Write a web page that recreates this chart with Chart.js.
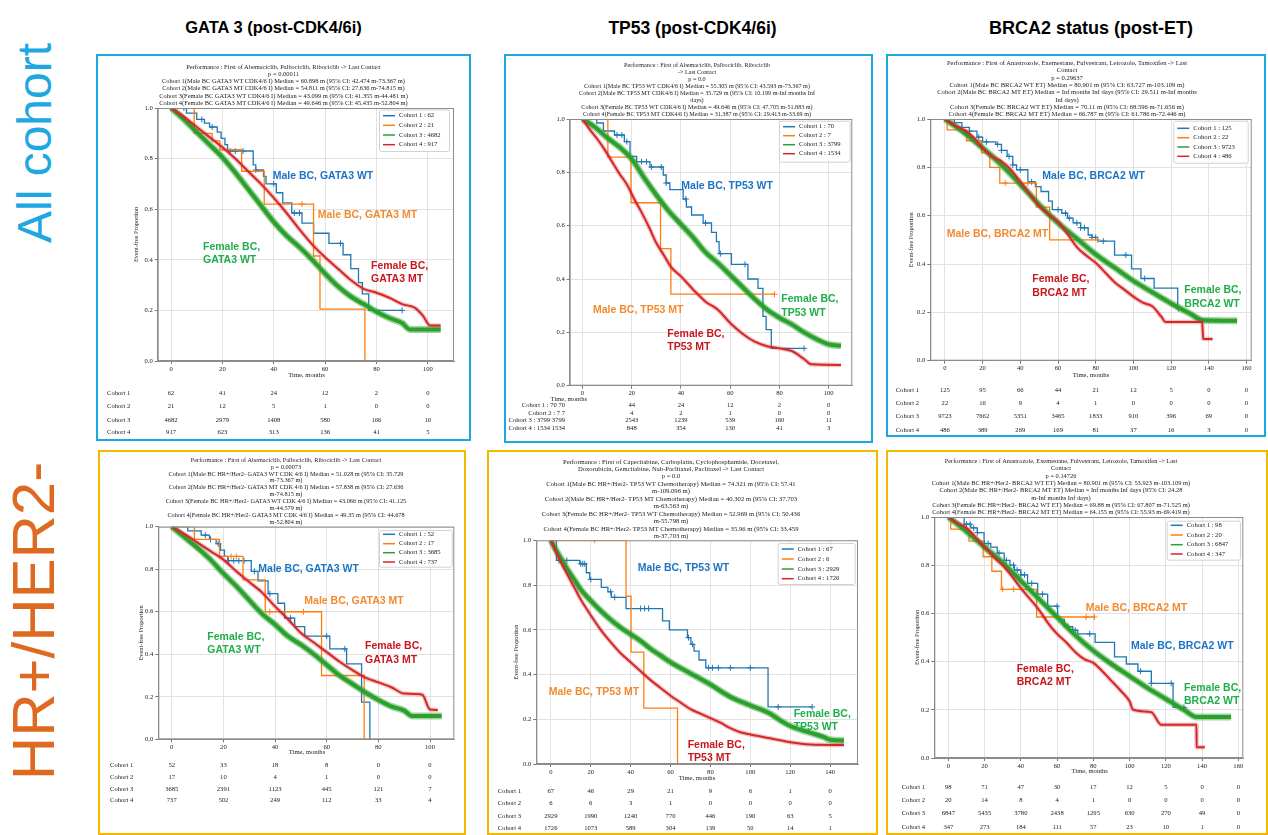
<!DOCTYPE html>
<html>
<head>
<meta charset="utf-8">
<title>Event-free proportion, male vs female BC</title>
<script src="https://cdn.jsdelivr.net/npm/chart.js@4.4.1/dist/chart.umd.min.js"></script>
<style>
  body { margin: 0; width: 1268px; height: 835px; position: relative; overflow: hidden; background: #fff;
         font-family: "Liberation Sans", Arial, sans-serif; }
  .side { position: absolute; line-height: 1; white-space: nowrap; transform: translate(-50%, -50%) rotate(-90deg); }
  .col { position: absolute; top: 18px; font-weight: bold; font-size: 16.5px; white-space: nowrap;
         transform: translateX(-50%); color: #000; }
  .frame { position: absolute; box-sizing: border-box; border: 2px solid; z-index: 3; pointer-events: none; }
  canvas { position: absolute; z-index: 1; }
  .head { position: absolute; width: 440px; text-align: center; white-space: nowrap; color: #222; z-index: 2;
          font-family: "Liberation Serif", "Times New Roman", serif; }
  .note { position: absolute; font-weight: bold; font-size: 10.5px; line-height: 13.6px; white-space: nowrap; z-index: 2; }
</style>
</head>
<body>
<div class="side" style="left:35px;top:143px;font-size:48px;color:#1ea7e1">All cohort</div>
<div class="side" style="left:34px;top:621px;font-size:60px;color:#dd6a20">HR+/HER2-</div>
<div class="col" style="left:273.5px">GATA 3 (post-CDK4/6i)</div>
<div class="col" style="left:692.5px;font-size:17.5px">TP53 (post-CDK4/6i)</div>
<div class="col" style="left:1091px;font-size:18px">BRCA2 status (post-ET)</div>

<script>
const BLUE = '#1f77b4', ORANGE = '#ff7f0e', GREEN = '#2ca02c', RED = '#d62728';
const COLS = [BLUE, ORANGE, GREEN, RED];
const SERIF = '"Liberation Serif", "Times New Roman", serif';
const NOTE_BLUE = '#1b74c5', NOTE_ORANGE = '#f28a30', NOTE_GREEN = '#1fae4b', NOTE_RED = '#c8161d';
const yTicks = [0, 0.2, 0.4, 0.6, 0.8, 1.0];
const ticks100 = [0, 20, 40, 60, 80, 100];
const ticks140 = [0, 20, 40, 60, 80, 100, 120, 140];
const ticks160 = [0, 20, 40, 60, 80, 100, 120, 140, 160];

// GATA3, all cohort  [months, proportion]
const gataAllC1 = [[0,1],[6,0.98],[10,0.955],[13,0.94],[15,0.925],[18,0.905],[19.5,0.88],[21,0.855],[22,0.83],[32,0.775],[33,0.755],[36,0.73],[37,0.70],[41,0.665],[43.5,0.625],[47,0.585],[51,0.545],[55.5,0.505],[61.5,0.465],[67,0.42],[70,0.365],[73,0.31],[74.5,0.265],[77,0.20],[90,0.20]];
const gataAllC2 = [[0,1],[9,0.90],[16,0.87],[19,0.835],[27.5,0.75],[36.3,0.62],[55.5,0.415],[58,0.205],[75.5,0]];
const gataAllC3 = [[0,1],[5,0.955],[10,0.905],[15,0.855],[20,0.805],[25,0.745],[30,0.68],[35,0.615],[40,0.55],[45,0.495],[50,0.45],[55,0.40],[60,0.345],[65,0.295],[70,0.255],[75,0.225],[80,0.195],[85,0.17],[90,0.15],[93,0.125],[105,0.125]];
const gataAllC4 = [[0,1],[5,0.965],[10,0.925],[15,0.885],[20,0.845],[25,0.80],[30,0.75],[35,0.70],[40,0.645],[45,0.585],[50,0.52],[55,0.46],[60,0.41],[65,0.365],[70,0.32],[75,0.285],[80,0.27],[85,0.25],[90,0.225],[95,0.21],[98,0.18],[101,0.14],[105,0.14]];
const gataAllC1Cens = [5,12,16,23,25,28,33,40,48,50,66,90];
const gataAllC2Cens = [51];
const gataAllN = [62, 21, 4682, 917];
const gataAllRisk = [[62,41,24,12,2,0],[21,12,5,1,0,0],[4682,2979,1408,580,166,10],[917,623,313,136,41,5]];

// TP53, all cohort
const tp53AllC1 = [[0,1],[5.8,0.985],[8.5,0.955],[13,0.94],[17,0.915],[19.3,0.86],[22,0.84],[27.4,0.82],[32.8,0.79],[34,0.76],[35.5,0.735],[40.9,0.70],[42.2,0.67],[44.3,0.64],[49,0.61],[52.4,0.575],[54.4,0.54],[55.5,0.495],[60.5,0.455],[67.2,0.40],[71.3,0.365],[73.3,0.26],[74.6,0.21],[76.7,0.14],[89.5,0.14]];
const tp53AllC2 = [[0,1],[10.3,0.857],[19.7,0.686],[31.7,0.514],[35.9,0.343],[78,0.343]];
const tp53AllC3 = [[0,1],[5,0.97],[10,0.93],[15,0.895],[20,0.85],[25,0.78],[30,0.715],[35,0.655],[40,0.605],[45,0.555],[50,0.50],[55,0.46],[60,0.415],[65,0.37],[70,0.325],[75,0.285],[80,0.255],[85,0.23],[90,0.20],[95,0.175],[100,0.155],[105,0.15]];
const tp53AllC4 = [[0,1],[3,0.96],[6,0.925],[9,0.885],[12,0.84],[15,0.795],[18,0.755],[21,0.70],[24,0.65],[27,0.595],[30,0.535],[33,0.49],[36,0.445],[40,0.41],[45,0.36],[50,0.315],[55,0.285],[60,0.235],[65,0.195],[70,0.165],[75,0.148],[80,0.14],[85,0.13],[90,0.10],[93,0.08],[105,0.078]];
const tp53AllC1Cens = [14,16,18,24,26,28,32,34,42,50,56,66,90];
const tp53AllC2Cens = [78];
const tp53AllN = [70, 7, 3799, 1534];
const tp53AllRiskTicks = [20, 40, 60, 80, 100];
const tp53AllRiskLabels = ['Cohort 1 : 70 70', 'Cohort 2 : 7 7', 'Cohort 3 : 3799 3799', 'Cohort 4 : 1534 1534'];
const tp53AllRisk = [[44,24,12,2,0],[4,2,1,0,0],[2543,1239,539,160,11],[848,354,130,41,3]];

// BRCA2, all cohort
const brcaAllC1 = [[0,1],[5,0.985],[9,0.965],[13,0.95],[17,0.925],[20,0.905],[27,0.895],[30,0.87],[33,0.845],[36,0.81],[38,0.79],[44,0.74],[48,0.72],[51,0.70],[55,0.66],[57,0.625],[62,0.61],[65,0.59],[68,0.57],[72,0.55],[76,0.52],[78,0.51],[81,0.495],[90,0.437],[99,0.38],[104,0.34],[111,0.30],[123.5,0.215],[124.5,0.215]];
const brcaAllC2 = [[0,1],[1.2,0.955],[11.5,0.91],[19.4,0.86],[23.8,0.80],[29.1,0.735],[48.5,0.635],[55.6,0.50],[81,0.50]];
const brcaAllC3 = [[0,1],[10,0.945],[20,0.88],[30,0.81],[40,0.73],[50,0.645],[60,0.57],[70,0.505],[80,0.44],[90,0.385],[100,0.33],[110,0.283],[120,0.237],[130,0.195],[137,0.167],[155,0.165]];
const brcaAllC4 = [[0,1],[5,0.975],[10,0.955],[15,0.925],[20,0.88],[25,0.845],[30,0.825],[35,0.79],[40,0.74],[45,0.69],[50,0.64],[55,0.605],[60,0.575],[65,0.525],[70,0.47],[75,0.435],[80,0.405],[85,0.365],[90,0.325],[95,0.295],[100,0.265],[105,0.24],[110,0.225],[115,0.18],[117,0.16],[136.5,0.16],[137,0.09],[142,0.09]];
const brcaAllC1Cens = [13,18,22,28,30,34,36,40,46,60,64,66,70,72,74,78,80,84,96,106,124];
const brcaAllC2Cens = [32,44,81];
const brcaAllN = [125, 22, 9723, 486];
const brcaAllRisk = [[125,95,66,44,21,12,5,0,0],[22,16,9,4,1,0,0,0,0],[9723,7662,5351,3465,1833,910,396,69,0],[486,389,269,169,81,37,16,3,0]];

// GATA3, HR+/HER2-
const gataHrC1 = [[0,1],[6.2,0.98],[11.4,0.96],[14.6,0.94],[17.2,0.92],[18.9,0.89],[20.4,0.86],[21.7,0.84],[30.8,0.79],[33.4,0.745],[37.3,0.685],[41.1,0.64],[43.7,0.57],[47.6,0.53],[51.5,0.485],[61.2,0.425],[67.7,0.355],[73.5,0.175],[76.7,0]];
const gataHrC2 = [[0,1],[8.8,0.94],[18.5,0.86],[27.6,0.75],[36.2,0.60],[58,0.30],[74.5,0]];
const gataHrC3 = [[0,1],[5,0.95],[10,0.90],[15,0.845],[20,0.78],[25,0.72],[30,0.655],[35,0.59],[40,0.54],[45,0.485],[50,0.445],[55,0.40],[60,0.35],[65,0.30],[70,0.26],[75,0.22],[80,0.185],[85,0.155],[90,0.135],[93,0.11],[104.5,0.11]];
const gataHrC4 = [[0,1],[5,0.965],[10,0.925],[15,0.885],[20,0.845],[25,0.79],[30,0.74],[35,0.69],[40,0.625],[45,0.565],[50,0.50],[55,0.455],[60,0.41],[65,0.365],[70,0.325],[75,0.29],[80,0.268],[85,0.245],[90,0.215],[97,0.21],[100,0.14],[103,0.138]];
const gataHrC1Cens = [13,15,18,22,24,26,28,32,38,46,60,67];
const gataHrC2Cens = [23,25,38,51];
const gataHrN = [52, 17, 3685, 737];
const gataHrRisk = [[52,33,18,8,0,0],[17,10,4,1,0,0],[3685,2391,1123,445,121,7],[737,502,249,112,33,4]];

// TP53, HR+/HER2-
const tp53HrC1 = [[0,1],[2.8,0.91],[14.5,0.895],[17.8,0.855],[19.5,0.825],[25.3,0.79],[28.6,0.77],[30.3,0.745],[37.7,0.695],[56,0.64],[59.4,0.60],[68.5,0.565],[70.2,0.535],[71.8,0.505],[74.3,0.465],[77.7,0.43],[108.9,0.255],[130.9,0.255]];
const tp53HrC2 = [[0,1],[37.7,0.75],[40.2,0.50],[46.6,0.25],[63.5,0]];
const tp53HrC3 = [[0,1],[3,0.95],[6,0.905],[9,0.86],[12,0.82],[15,0.78],[20,0.73],[25,0.685],[30,0.645],[35,0.61],[40,0.58],[45,0.55],[50,0.515],[55,0.485],[60,0.455],[70,0.405],[80,0.355],[90,0.30],[100,0.262],[110,0.225],[115,0.195],[120,0.17],[130,0.14],[137,0.12],[140,0.108],[147,0.105]];
const tp53HrC4 = [[0,1],[3,0.94],[6,0.885],[9,0.835],[12,0.785],[15,0.735],[20,0.665],[25,0.60],[30,0.545],[35,0.495],[40,0.455],[45,0.415],[50,0.375],[55,0.34],[60,0.305],[65,0.275],[70,0.245],[75,0.225],[80,0.205],[85,0.185],[90,0.16],[95,0.142],[100,0.132],[110,0.115],[120,0.097],[130,0.087],[147,0.085]];
const tp53HrC1Cens = [4,8,15,16,17,20,30,32,45,47,49,69,71,79,81,84,90,100,114,131];
const tp53HrC2Cens = [22];
const tp53HrN = [67, 6, 2929, 1726];
const tp53HrRisk = [[67,46,29,21,9,6,1,0],[6,6,3,1,0,0,0,0],[2929,1990,1240,770,446,190,63,5],[1726,1073,589,304,139,50,14,1]];

// BRCA2, HR+/HER2-
const brcaHrC1 = [[0,1],[8.7,0.97],[12.4,0.955],[16,0.935],[19.7,0.89],[23.4,0.875],[27,0.85],[30.8,0.82],[34,0.80],[36.4,0.78],[40,0.76],[43.7,0.725],[49.3,0.68],[54.8,0.63],[60.3,0.575],[64,0.545],[68.6,0.53],[71.4,0.515],[81,0.48],[91.7,0.42],[98.2,0.39],[104.6,0.36],[112,0.31],[124,0.21],[130.5,0.21]];
const brcaHrC2 = [[0,1],[1.3,0.95],[11.4,0.90],[19.2,0.835],[24,0.775],[29.3,0.70],[48.7,0.585],[80.6,0.585]];
const brcaHrC3 = [[0,1],[10,0.94],[20,0.875],[30,0.81],[40,0.735],[50,0.66],[60,0.585],[70,0.51],[80,0.445],[90,0.39],[100,0.34],[110,0.29],[120,0.245],[130,0.20],[137,0.17],[156,0.17]];
const brcaHrC4 = [[0,1],[5,0.975],[10,0.955],[15,0.915],[20,0.875],[25,0.835],[30,0.80],[35,0.755],[40,0.705],[45,0.66],[50,0.615],[55,0.56],[60,0.515],[65,0.48],[70,0.44],[75,0.41],[80,0.395],[85,0.36],[90,0.32],[95,0.28],[100,0.235],[102,0.20],[112,0.19],[117.5,0.138],[136.9,0.138],[137,0.045],[141.5,0.045]];
const brcaHrC1Cens = [10,12,14,16,20,22,28,32,36,38,40,42,46,52,60,66,70,78,106,112,123,130];
const brcaHrC2Cens = [30,36,76,80.6];
const brcaHrN = [98, 20, 6847, 347];
const brcaHrRisk = [[98,71,47,30,17,12,5,0,0],[20,14,8,4,1,0,0,0,0],[6847,5435,3780,2438,1295,630,270,49,0],[347,273,184,111,57,23,10,1,0]];

const cohortLabels = ['Cohort 1', 'Cohort 2', 'Cohort 3', 'Cohort 4'];

const gataAllHead = [
  'Performance : First of Abemaciclib, Palbociclib, Ribociclib -> Last Contact',
  'p = 0.00011',
  'Cohort 1(Male BC GATA3 WT CDK4/6 I) Median = 60.898 m (95% CI: 42.474 m-73.367 m)',
  'Cohort 2(Male BC GATA3 MT CDK4/6 I) Median = 54.811 m (95% CI: 27.636 m-74.815 m)',
  'Cohort 3(Female BC GATA3 WT CDK4/6 I) Median = 43.099 m (95% CI: 41.355 m-44.481 m)',
  'Cohort 4(Female BC GATA3 MT CDK4/6 I) Median = 49.646 m (95% CI: 45.435 m-52.804 m)'];
const tp53AllHead = [
  'Performance : First of Abemaciclib, Palbociclib, Ribociclib',
  '-> Last Contact',
  'p = 0.0',
  'Cohort 1(Male BC TP53 WT CDK4/6 I) Median = 55.305 m (95% CI: 43.593 m-73.367 m)',
  'Cohort 2(Male BC TP53 MT CDK4/6 I) Median = 35.729 m (95% CI: 10.199 m-Inf months Inf',
  'days)',
  'Cohort 3(Female BC TP53 WT CDK4/6 I) Median = 49.646 m (95% CI: 47.705 m-51.883 m)',
  'Cohort 4(Female BC TP53 MT CDK4/6 I) Median = 31.387 m (95% CI: 29.413 m-33.69 m)'];
const brcaAllHead = [
  'Performance : First of Anastrozole, Exemestane, Fulvestrant, Letrozole, Tamoxifen -> Last',
  'Contact',
  'p = 0.29637',
  'Cohort 1(Male BC BRCA2 WT ET) Median = 80.901 m (95% CI: 63.727 m-103.109 m)',
  'Cohort 2(Male BC BRCA2 MT ET) Median = Inf months Inf days (95% CI: 29.511 m-Inf months',
  'Inf days)',
  'Cohort 3(Female BC BRCA2 WT ET) Median = 70.11 m (95% CI: 68.596 m-71.656 m)',
  'Cohort 4(Female BC BRCA2 MT ET) Median = 66.787 m (95% CI: 61.786 m-72.446 m)'];
const gataHrHead = [
  'Performance : First of Abemaciclib, Palbociclib, Ribociclib -> Last Contact',
  'p = 0.00073',
  'Cohort 1(Male BC HR+/Her2- GATA3 WT CDK 4/6 I) Median = 51.028 m (95% CI: 35.729',
  'm-73.367 m)',
  'Cohort 2(Male BC HR+/Her2- GATA3 MT CDK 4/6 I) Median = 57.838 m (95% CI: 27.636',
  'm-74.815 m)',
  'Cohort 3(Female BC HR+/Her2- GATA3 WT CDK 4/6 I) Median = 43.066 m (95% CI: 41.125',
  'm-44.579 m)',
  'Cohort 4(Female BC HR+/Her2- GATA3 MT CDK 4/6 I) Median = 49.35 m (95% CI: 44.678',
  'm-52.804 m)'];
const tp53HrHead = [
  'Performance : First of Capecitabine, Carboplatin, Cyclophosphamide, Docetaxel,',
  'Doxorubicin, Gemcitabine, Nab-Paclitaxel, Paclitaxel -> Last Contact',
  'p = 0.0',
  'Cohort 1(Male BC HR+/Her2- TP53 WT Chemotherapy) Median = 74.321 m (95% CI: 57.41',
  'm-109.096 m)',
  'Cohort 2(Male BC HR+/Her2- TP53 MT Chemotherapy) Median = 40.302 m (95% CI: 37.703',
  'm-63.563 m)',
  'Cohort 3(Female BC HR+/Her2- TP53 WT Chemotherapy) Median = 52.969 m (95% CI: 50.436',
  'm-55.798 m)',
  'Cohort 4(Female BC HR+/Her2- TP53 MT Chemotherapy) Median = 35.96 m (95% CI: 33.459',
  'm-37.703 m)'];
const brcaHrHead = [
  'Performance : First of Anastrozole, Exemestane, Fulvestrant, Letrozole, Tamoxifen -> Last',
  'Contact',
  'p = 0.14726',
  'Cohort 1(Male BC HR+/Her2- BRCA2 WT ET) Median = 80.901 m (95% CI: 53.923 m-103.109 m)',
  'Cohort 2(Male BC HR+/Her2- BRCA2 MT ET) Median = Inf months Inf days (95% CI: 24.28',
  'm-Inf months Inf days)',
  'Cohort 3(Female BC HR+/Her2- BRCA2 WT ET) Median = 69.88 m (95% CI: 67.807 m-71.525 m)',
  'Cohort 4(Female BC HR+/Her2- BRCA2 MT ET) Median = 64.155 m (95% CI: 55.93 m-69.419 m)'];

const panels = [
  { box: [96, 54, 471, 441], frame: '#1aa9e4', plot: [157.7, 108, 454, 361], xMin: -5.2, xMax: 110.2, xTicks: ticks100,
    series: [gataAllC1, gataAllC2, gataAllC3, gataAllC4], cens: [gataAllC1Cens, gataAllC2Cens], n: gataAllN,
    head: { cx: 283.5, first: 66.2, lh: 7.3, fs: 6.45, lines: gataAllHead },
    legend: [379, 109.5, 449, 151], legendRows: [115.7, 125.3, 135, 144.7],
    xTitle: [306.5, 375], yTitleX: 136.7,
    risk: gataAllRisk, riskTicks: ticks100, riskLabels: cohortLabels, riskLabelX: 107, riskAlign: 'left', riskRows: [393.3, 406.7, 420, 432.7],
    notes: [
      { t: ['Male BC, GATA3 WT'], c: NOTE_BLUE, x: 272.7, y: 176 },
      { t: ['Male BC, GATA3 MT'], c: NOTE_ORANGE, x: 317.7, y: 215 },
      { t: ['Female BC,', 'GATA3 WT'], c: NOTE_GREEN, x: 203, y: 246.7 },
      { t: ['Female BC,', 'GATA3 MT'], c: NOTE_RED, x: 371, y: 265.7 }] },
  { box: [504, 54, 873, 443], frame: '#1aa9e4', plot: [569.7, 119, 852.3, 385.7], xMin: -5.2, xMax: 109.6, xTicks: ticks100,
    series: [tp53AllC1, tp53AllC2, tp53AllC3, tp53AllC4], cens: [tp53AllC1Cens, tp53AllC2Cens], n: tp53AllN,
    head: { cx: 697, first: 65.7, lh: 6.9, fs: 6.15, lines: tp53AllHead },
    legend: [779, 120.7, 849.7, 161.7], legendRows: [126.7, 135.7, 144.7, 153.7],
    xTitle: [568.8, 399.3], yTitleX: null,
    risk: tp53AllRisk, riskTicks: tp53AllRiskTicks, riskLabels: tp53AllRiskLabels, riskLabelX: 565, riskAlign: 'right', riskRows: [405.5, 413, 420.5, 428],
    notes: [
      { t: ['Male BC, TP53 WT'], c: NOTE_BLUE, x: 681.3, y: 185.7 },
      { t: ['Male BC, TP53 MT'], c: NOTE_ORANGE, x: 593, y: 310 },
      { t: ['Female BC,', 'TP53 WT'], c: NOTE_GREEN, x: 781.3, y: 299 },
      { t: ['Female BC,', 'TP53 MT'], c: NOTE_RED, x: 667.3, y: 333.3 }] },
  { box: [886, 54, 1266, 437], frame: '#1aa9e4', plot: [930.3, 119, 1251.7, 360.7], xMin: -7.75, xMax: 162.75, xTicks: ticks160,
    series: [brcaAllC1, brcaAllC2, brcaAllC3, brcaAllC4], cens: [brcaAllC1Cens, brcaAllC2Cens], n: brcaAllN,
    head: { cx: 1067, first: 62.8, lh: 7.3, fs: 6.6, lines: brcaAllHead },
    legend: [1173.3, 120.7, 1247.7, 162.7], legendRows: [128.3, 137.7, 147, 156.3],
    xTitle: [1091, 375], yTitleX: 911.7,
    risk: brcaAllRisk, riskTicks: ticks160, riskLabels: cohortLabels, riskLabelX: 895.7, riskAlign: 'left', riskRows: [390, 403.3, 416.7, 430],
    notes: [
      { t: ['Male BC, BRCA2 WT'], c: NOTE_BLUE, x: 1042.3, y: 176 },
      { t: ['Male BC, BRCA2 MT'], c: NOTE_ORANGE, x: 946.7, y: 234 },
      { t: ['Female BC,', 'BRCA2 MT'], c: NOTE_RED, x: 1032.3, y: 279 },
      { t: ['Female BC,', 'BRCA2 WT'], c: NOTE_GREEN, x: 1184.3, y: 290 }] },
  { box: [98, 450, 466, 835], frame: '#f5b800', plot: [158.3, 526.7, 454.3, 739.3], xMin: -5.2, xMax: 109.4, xTicks: ticks100,
    series: [gataHrC1, gataHrC2, gataHrC3, gataHrC4], cens: [gataHrC1Cens, gataHrC2Cens], n: gataHrN,
    head: { cx: 286, first: 460.3, lh: 6.86, fs: 6.3, lines: gataHrHead },
    legend: [379, 530, 451.7, 566.7], legendRows: [534.3, 543.7, 552.7, 562],
    xTitle: [307, 752.7], yTitleX: 141.7,
    risk: gataHrRisk, riskTicks: ticks100, riskLabels: cohortLabels, riskLabelX: 110, riskAlign: 'left', riskRows: [765.7, 777.3, 789, 800.7],
    notes: [
      { t: ['Male BC, GATA3 WT'], c: NOTE_BLUE, x: 258.3, y: 568.3 },
      { t: ['Male BC, GATA3 MT'], c: NOTE_ORANGE, x: 304.3, y: 600.7 },
      { t: ['Female BC,', 'GATA3 WT'], c: NOTE_GREEN, x: 207.3, y: 636.7 },
      { t: ['Female BC,', 'GATA3 MT'], c: NOTE_RED, x: 365, y: 646 }] },
  { box: [487, 450, 878, 835], frame: '#f5b800', plot: [536.3, 540.3, 858, 764], xMin: -7.3, xMax: 154, xTicks: ticks140,
    series: [tp53HrC1, tp53HrC2, tp53HrC3, tp53HrC4], cens: [tp53HrC1Cens, tp53HrC2Cens], n: tp53HrN,
    head: { cx: 671, first: 461.3, lh: 7.44, fs: 6.65, lines: tp53HrHead },
    legend: [777.7, 543, 854.7, 584], legendRows: [549, 559, 569, 578.7],
    xTitle: [697, 778.7], yTitleX: 516.3,
    risk: tp53HrRisk, riskTicks: ticks140, riskLabels: cohortLabels, riskLabelX: 497.7, riskAlign: 'left', riskRows: [791.3, 803.7, 816, 828],
    notes: [
      { t: ['Male BC, TP53 WT'], c: NOTE_BLUE, x: 637.7, y: 567.3 },
      { t: ['Male BC, TP53 MT'], c: NOTE_ORANGE, x: 548.7, y: 691.3 },
      { t: ['Female BC,', 'TP53 WT'], c: NOTE_GREEN, x: 793.7, y: 713.7 },
      { t: ['Female BC,', 'TP53 MT'], c: NOTE_RED, x: 687.7, y: 744.7 }] },
  { box: [886, 450, 1268, 835], frame: '#f5b800', plot: [934.3, 517, 1243.3, 758], xMin: -7.75, xMax: 162.75, xTicks: ticks160,
    series: [brcaHrC1, brcaHrC2, brcaHrC3, brcaHrC4], cens: [brcaHrC1Cens, brcaHrC2Cens], n: brcaHrN,
    head: { cx: 1061, first: 460.7, lh: 7.33, fs: 6.4, lines: brcaHrHead },
    legend: [1166.7, 520.7, 1240, 559.7], legendRows: [525.3, 535, 544.7, 554],
    xTitle: [1089.7, 771.3], yTitleX: 917.3,
    risk: brcaHrRisk, riskTicks: ticks160, riskLabels: cohortLabels, riskLabelX: 901.7, riskAlign: 'left', riskRows: [787, 800.3, 813.7, 827],
    notes: [
      { t: ['Male BC, BRCA2 MT'], c: NOTE_ORANGE, x: 1085.7, y: 607.3 },
      { t: ['Male BC, BRCA2 WT'], c: NOTE_BLUE, x: 1131, y: 645.3 },
      { t: ['Female BC,', 'BRCA2 MT'], c: NOTE_RED, x: 1016.7, y: 668.7 },
      { t: ['Female BC,', 'BRCA2 WT'], c: NOTE_GREEN, x: 1184, y: 687.3 }] }
];

function toXY(pairs) {
  return pairs.map(p => ({ x: p[0], y: p[1] }));
}

// survival value of a step curve at time t (for placing censor marks)
function stepAt(pairs, t) {
  let y = pairs[0][1];
  for (const p of pairs) if (p[0] <= t) y = p[1];
  return y;
}

function kmDatasets(p) {
  const sets = [];
  [0, 1].forEach(i => {
    sets.push({ data: toXY(p.series[i]), borderColor: COLS[i], borderWidth: 1.3, stepped: 'before', pointRadius: 0, order: 7 - 2 * i });
    sets.push({ data: p.cens[i].map(t => ({ x: t, y: stepAt(p.series[i], t) })), showLine: false, pointStyle: 'cross',
                pointRadius: 3, borderColor: COLS[i], borderWidth: 1, order: 6 - 2 * i });
  });
  sets.push({ data: toXY(p.series[2]), borderColor: 'rgba(44,160,44,0.45)', borderWidth: 7, pointRadius: 0, cubicInterpolationMode: 'monotone', order: 3 });
  sets.push({ data: toXY(p.series[2]), borderColor: GREEN, borderWidth: 4, pointRadius: 0, cubicInterpolationMode: 'monotone', order: 2 });
  sets.push({ data: toXY(p.series[3]), borderColor: 'rgba(214,39,40,0.28)', borderWidth: 4.5, pointRadius: 0, cubicInterpolationMode: 'monotone', order: 1 });
  sets.push({ data: toXY(p.series[3]), borderColor: RED, borderWidth: 2, pointRadius: 0, cubicInterpolationMode: 'monotone', order: 0 });
  return sets;
}

function extras(p) {
  return {
    id: 'extras',
    afterDraw(chart) {
      const ctx = chart.ctx, a = chart.chartArea, ox = p.box[0], oy = p.box[1];
      ctx.save();
      ctx.strokeStyle = '#8c8c8c';
      ctx.lineWidth = 1;
      ctx.strokeRect(a.left + 0.5, a.top + 0.5, a.right - a.left - 1, a.bottom - a.top - 1);

      // legend
      const [ll, lt, lr, lb] = p.legend;
      ctx.fillStyle = 'rgba(255,255,255,0.85)';
      ctx.strokeStyle = '#d2d2d2';
      ctx.beginPath();
      ctx.roundRect(ll - ox + 0.5, lt - oy + 0.5, lr - ll, lb - lt, 2);
      ctx.fill();
      ctx.stroke();
      ctx.font = '6.6px ' + SERIF;
      ctx.textBaseline = 'middle';
      p.legendRows.forEach((ry, i) => {
        ctx.strokeStyle = COLS[i];
        ctx.lineWidth = 1.5;
        ctx.beginPath();
        ctx.moveTo(ll - ox + 4, ry - oy);
        ctx.lineTo(ll - ox + 16, ry - oy);
        ctx.stroke();
        ctx.fillStyle = '#222';
        ctx.textAlign = 'left';
        ctx.fillText('Cohort ' + (i + 1) + ' : ' + p.n[i], ll - ox + 20, ry - oy);
      });

      // axis titles
      ctx.fillStyle = '#222';
      ctx.textAlign = 'center';
      ctx.fillText('Time, months', p.xTitle[0] - ox, p.xTitle[1] - oy);
      if (p.yTitleX) {
        ctx.save();
        ctx.translate(p.yTitleX - ox, (a.top + a.bottom) / 2);
        ctx.rotate(-Math.PI / 2);
        ctx.font = '6.3px ' + SERIF;
        ctx.fillText('Event-free Proportion', 0, 0);
        ctx.restore();
      }

      // number at risk table
      const xs = chart.scales.x;
      p.risk.forEach((row, i) => {
        const y = p.riskRows[i] - oy;
        ctx.textAlign = p.riskAlign;
        ctx.fillText(p.riskLabels[i], p.riskLabelX - ox, y);
        ctx.textAlign = 'center';
        row.forEach((v, j) => ctx.fillText(String(v), xs.getPixelForValue(p.riskTicks[j]), y));
      });
      ctx.restore();
    }
  };
}

function makePanel(p) {
  const [bl, bt, br, bb] = p.box;
  const W = br - bl, H = bb - bt;

  const frame = document.createElement('div');
  frame.className = 'frame';
  Object.assign(frame.style, { left: bl + 'px', top: bt + 'px', width: W + 'px', height: H + 'px', borderColor: p.frame });
  document.body.appendChild(frame);

  const head = document.createElement('div');
  head.className = 'head';
  Object.assign(head.style, { left: (p.head.cx - 220) + 'px', top: (p.head.first - p.head.lh / 2) + 'px',
                              fontSize: p.head.fs + 'px', lineHeight: p.head.lh + 'px' });
  p.head.lines.forEach(t => {
    const l = document.createElement('div');
    l.textContent = t;
    head.appendChild(l);
  });
  document.body.appendChild(head);

  p.notes.forEach(nt => {
    const d = document.createElement('div');
    d.className = 'note';
    Object.assign(d.style, { left: nt.x + 'px', top: (nt.y - 6.8) + 'px', color: nt.c });
    d.innerHTML = nt.t.join('<br>');
    document.body.appendChild(d);
  });

  const canvas = document.createElement('canvas');
  canvas.width = W;
  canvas.height = H;
  Object.assign(canvas.style, { left: bl + 'px', top: bt + 'px', width: W + 'px', height: H + 'px' });
  document.body.appendChild(canvas);

  const [pl, pt, pr, pb] = p.plot;
  const Y_W = 24, X_H = 14;
  const tickFont = { family: SERIF, size: 6.6 };
  const grid = { color: '#e2e2e2', lineWidth: 1, tickLength: 3, tickColor: '#777' };

  new Chart(canvas, {
    type: 'line',
    data: { datasets: kmDatasets(p) },
    options: {
      responsive: false,
      animation: false,
      devicePixelRatio: 1,
      layout: { padding: { left: pl - bl - Y_W, top: pt - bt, right: br - pr, bottom: bb - pb - X_H } },
      plugins: { legend: { display: false }, tooltip: { enabled: false } },
      scales: {
        x: {
          type: 'linear', min: p.xMin, max: p.xMax,
          afterBuildTicks: s => { s.ticks = p.xTicks.map(v => ({ value: v })); },
          afterFit: s => { s.height = X_H; },
          ticks: { font: tickFont, color: '#222', padding: 1, maxRotation: 0, autoSkip: false },
          grid: grid,
          border: { color: '#8c8c8c' }
        },
        y: {
          min: 0, max: 1,
          afterBuildTicks: s => { s.ticks = yTicks.map(v => ({ value: v })); },
          afterFit: s => { s.width = Y_W; },
          ticks: { font: tickFont, color: '#222', padding: 2, autoSkip: false, callback: v => v.toFixed(1) },
          grid: grid,
          border: { color: '#8c8c8c' }
        }
      }
    },
    plugins: [extras(p)]
  });
}

panels.forEach(makePanel);
</script>
</body>
</html>
